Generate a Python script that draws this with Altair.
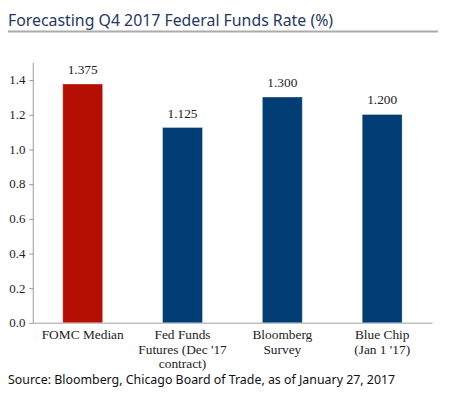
import altair as alt
import pandas as pd

categories = ["FOMC Median", "Fed Funds|Futures (Dec '17|contract)", "Bloomberg|Survey", "Blue Chip|(Jan 1 '17)"]
values = [1.375, 1.125, 1.300, 1.200]
labels = ["1.375", "1.125", "1.300", "1.200"]
colors = ["#B50F04", "#003D74", "#003D74", "#003D74"]
y_ticks = [0.0, 0.2, 0.4, 0.6, 0.8, 1.0, 1.2, 1.4]
title_text = "Forecasting Q4 2017 Federal Funds Rate (%)"
source_text = "Source: Bloomberg, Chicago Board of Trade, as of January 27, 2017"

df = pd.DataFrame({"cat": categories, "val": values, "lab": labels, "col": colors})

W, H = 403, 263
serif = "Liberation Serif"
sans = "Noto Sans"

x = alt.X("cat:N", sort=categories, title=None,
          scale=alt.Scale(paddingInner=0.6, paddingOuter=0.3),
          axis=alt.Axis(labelAngle=0, labelExpr="split(datum.label, '|')",
                        labelFont=serif, labelFontSize=13.5, labelColor="#222222",
                        labelLineHeight=14.5, labelPadding=5, ticks=False,
                        labelOverlap=False,
                        domainColor="#BFBFBF", domainWidth=1.5))
y = alt.Y("val:Q", title=None,
          scale=alt.Scale(domain=[0, 1.5], nice=False),
          axis=alt.Axis(values=y_ticks, format=".1f", grid=False,
                        labelFont=serif, labelFontSize=13, labelColor="#222222",
                        labelPadding=4, tickSize=4, tickColor="#999999",
                        labelOverlap=False,
                        domainColor="#999999", labelFlush=False))

bars = alt.Chart(df).mark_bar(strokeWidth=1, strokeOpacity=0.35, stroke="#ffffff").encode(
    x=x, y=y, color=alt.Color("col:N", scale=None)
)
vals = alt.Chart(df).mark_text(dy=-7, baseline="bottom", font=serif, fontSize=13.5,
                               color="#222222").encode(
    x=x, y=y, text="lab:N"
)

one = pd.DataFrame({"t": [title_text], "s": [source_text]})
title = alt.Chart(one).mark_text(align="left", baseline="alphabetic", font=sans,
                                 fontSize=16, color="#1F3864").encode(
    x=alt.value(-25), y=alt.value(-37), text="t:N"
)
rule = alt.Chart(one).mark_rule(color="#ABABAB", strokeWidth=2).encode(
    x=alt.value(-25), x2=alt.value(409), y=alt.value(-31)
)
source = alt.Chart(one).mark_text(align="left", baseline="alphabetic", font=sans,
                                  fontSize=12.5, color="#111111").encode(
    x=alt.value(-25), y=alt.value(325), text="s:N"
)

chart = alt.layer(bars, vals, title, rule, source).properties(
    width=W, height=H,
    autosize=alt.AutoSizeParams(type="none"),
    padding={"left": 25, "top": 53, "right": 10, "bottom": 69},
).configure(background="white").configure_view(strokeWidth=0, stroke="transparent")

chart.save("out.html", embed_options={"renderer": "svg", "actions": False})
